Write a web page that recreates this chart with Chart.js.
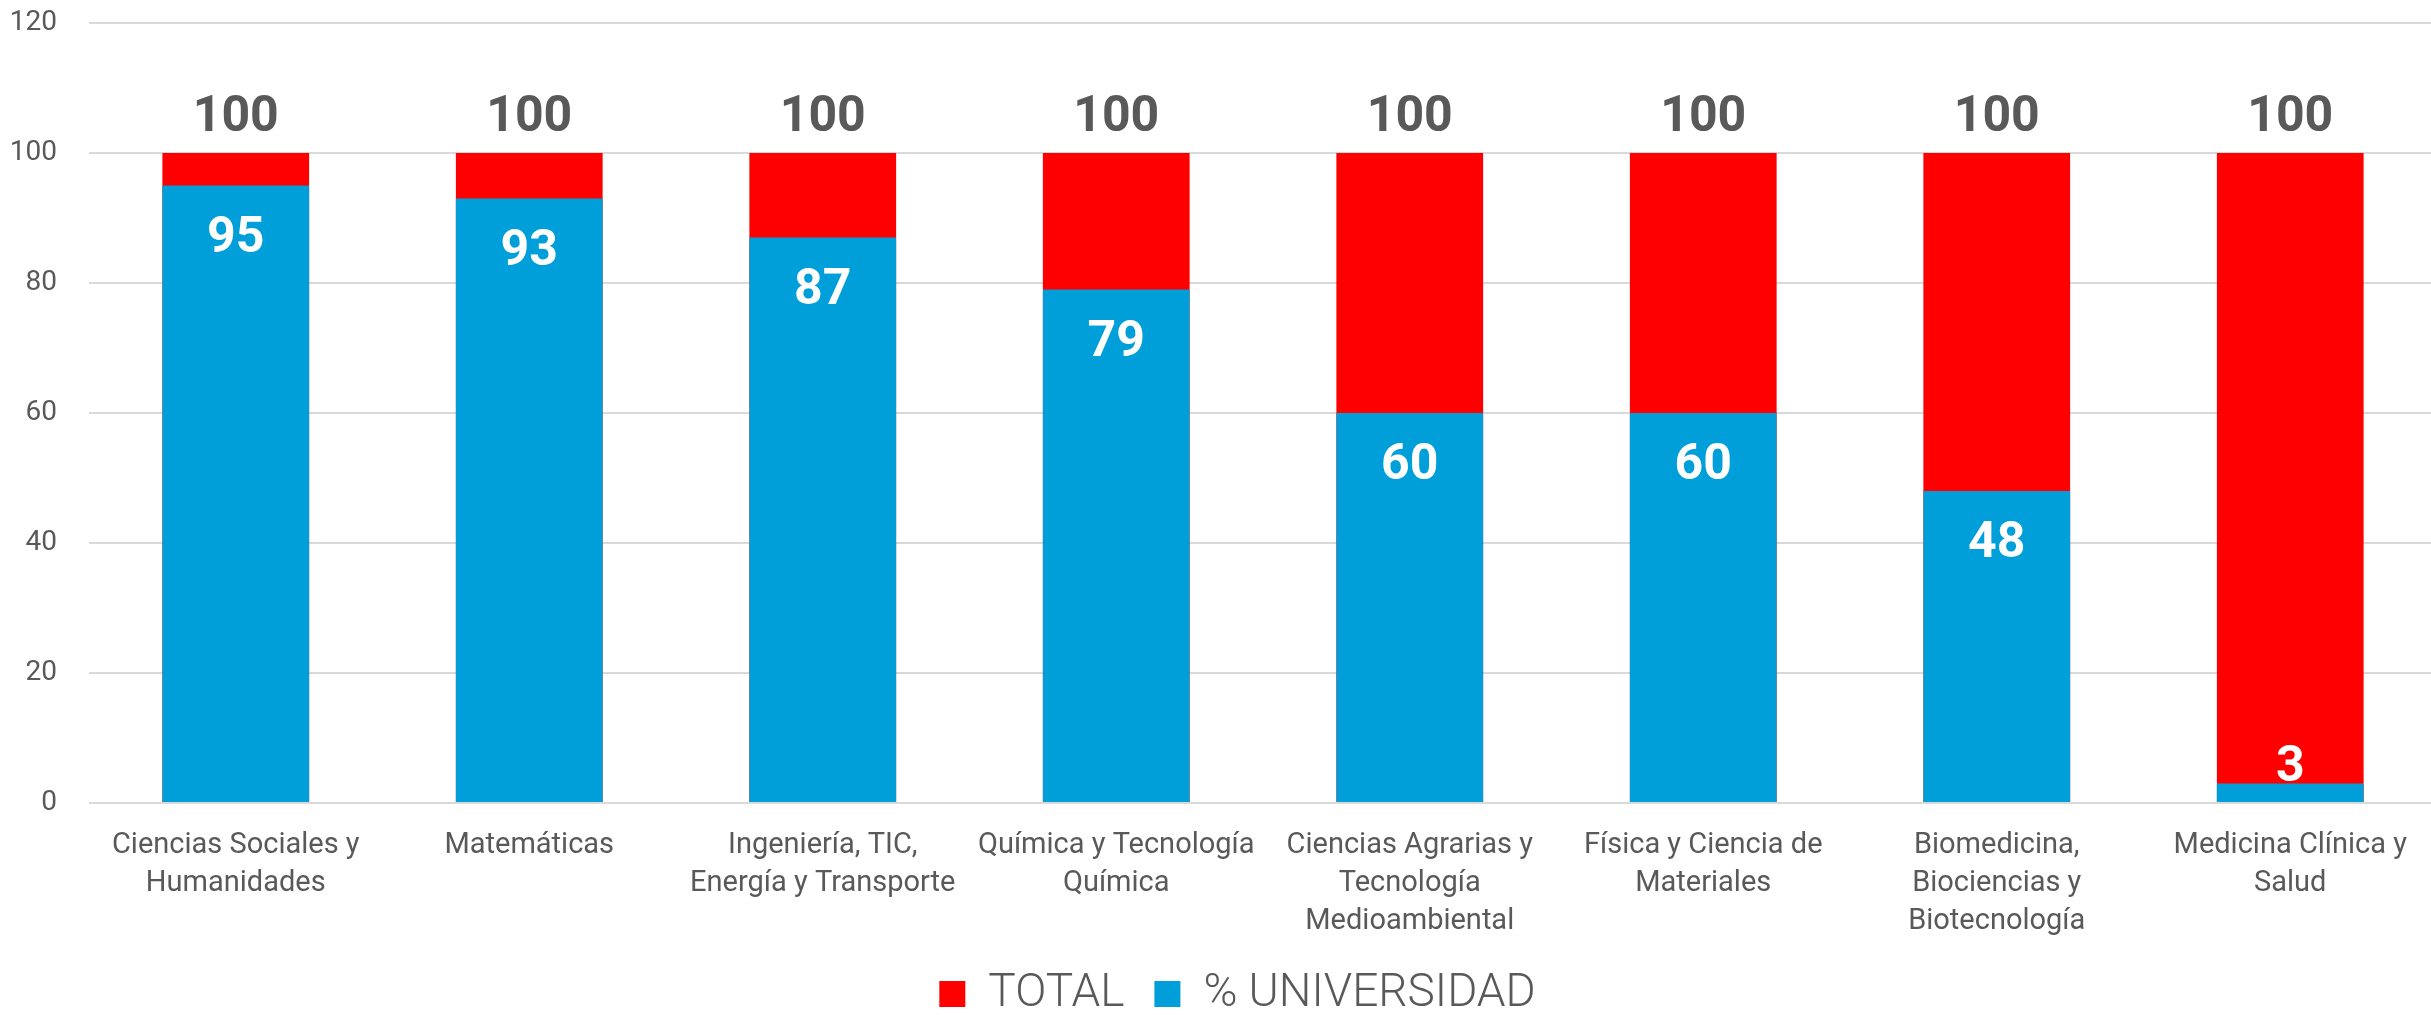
<!DOCTYPE html>
<html>
<head>
<meta charset="utf-8">
<script src="https://cdn.jsdelivr.net/npm/chart.js@4.4.1/dist/chart.umd.min.js"></script>
<style>
  html, body { margin: 0; padding: 0; background: #ffffff; overflow: hidden; }
  #wrap { width: 2431px; height: 1015px; overflow: hidden; }
</style>
</head>
<body>
<div id="wrap"><canvas id="c" width="2437" height="1027"></canvas></div>
<script>
const categories = [
  ["Ciencias Sociales y", "Humanidades"],
  ["Matemáticas"],
  ["Ingeniería, TIC,", "Energía y Transporte"],
  ["Química y Tecnología", "Química"],
  ["Ciencias Agrarias y", "Tecnología", "Medioambiental"],
  ["Física y Ciencia de", "Materiales"],
  ["Biomedicina,", "Biociencias y", "Biotecnología"],
  ["Medicina Clínica y", "Salud"]
];
const totalValues = [100, 100, 100, 100, 100, 100, 100, 100];
const universidadValues = [95, 93, 87, 79, 60, 60, 48, 3];
const seriesNames = ["TOTAL", "% UNIVERSIDAD"];

const TEXT = "#595959";
const FONT = "Roboto";
Chart.defaults.font.family = FONT;

const valueLabels = {
  id: "valueLabels",
  afterLayout(chart) {
    if (chart.legend) { chart.legend.left += 14; chart.legend.right += 14; }
  },
  afterDatasetsDraw(chart) {
    const ctx = chart.ctx;
    ctx.save();
    ctx.textAlign = "center";
    ctx.textBaseline = "alphabetic";
    ctx.font = "700 50px " + FONT;
    chart.data.datasets.forEach((ds, di) => {
      const meta = chart.getDatasetMeta(di);
      meta.data.forEach((bar, i) => {
        const v = ds.data[i];
        if (di === 0) {
          ctx.fillStyle = TEXT;
          ctx.fillText(String(v), bar.x, bar.y - 22);
        } else {
          ctx.fillStyle = "#ffffff";
          const h = bar.base - bar.y;
          if (h > 75) {
            ctx.fillText(String(v), bar.x, bar.y + 66);
          } else {
            ctx.fillText(String(v), bar.x, bar.y - 3);
          }
        }
      });
    });
    ctx.restore();
  }
};

new Chart(document.getElementById("c"), {
  type: "bar",
  data: {
    labels: categories,
    datasets: [
      {
        label: seriesNames[0],
        data: totalValues,
        backgroundColor: "#FF0000",
        grouped: false,
        order: 2,
        barPercentage: 0.5,
        categoryPercentage: 1.0
      },
      {
        label: seriesNames[1],
        data: universidadValues,
        backgroundColor: "#009FD9",
        grouped: false,
        order: 1,
        barPercentage: 0.5,
        categoryPercentage: 1.0
      }
    ]
  },
  options: {
    responsive: false,
    animation: false,
    devicePixelRatio: 1,
    layout: { padding: { left: 10, top: 23, right: 0, bottom: 0 } },
    plugins: {
      tooltip: { enabled: false },
      legend: {
        position: "bottom",
        labels: {
          sort: (a, b) => a.datasetIndex - b.datasetIndex,
          boxWidth: 26,
          boxHeight: 26,
          padding: 30,
          color: TEXT,
          font: { family: FONT, size: 46, weight: "300" }
        }
      }
    },
    scales: {
      x: {
        grid: { display: false, drawTicks: false },
        border: { display: false },
        afterFit: (s) => { s.height = 138; },
        ticks: {
          color: TEXT,
          font: { family: FONT, size: 29, weight: "400", lineHeight: 1.31 },
          padding: 24,
          maxRotation: 0,
          minRotation: 0,
          autoSkip: false
        }
      },
      y: {
        min: 0,
        max: 120,
        afterFit: (s) => { s.width = 79; s.paddingTop = 0; s.paddingBottom = 0; },
        ticks: {
          stepSize: 20,
          color: TEXT,
          font: { family: FONT, size: 28, weight: "400" },
          padding: 32
        },
        grid: { color: "#D9D9D9", lineWidth: 2, drawTicks: false },
        border: { display: false }
      }
    }
  },
  plugins: [valueLabels]
});
</script>
</body>
</html>
